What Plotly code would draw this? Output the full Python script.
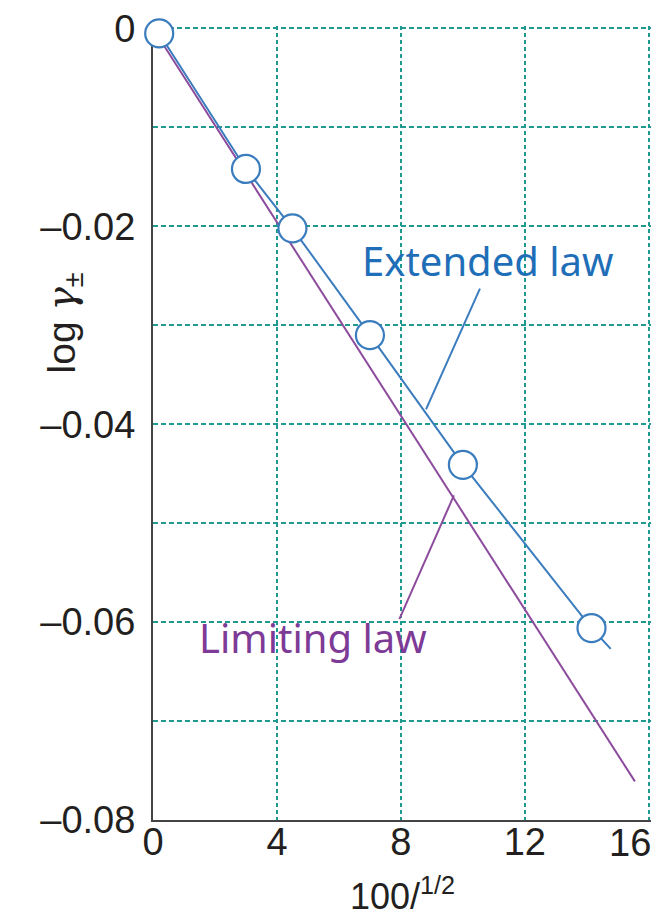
import plotly.graph_objects as go

# ---- data ----
meas_x = [0.2, 3.0, 4.5, 7.0, 10.0, 14.15]
meas_y = [-0.0005, -0.0142, -0.0202, -0.0310, -0.0441, -0.0606]

extended_x = [0.2, 3.0, 4.5, 7.0, 10.0, 14.15, 14.77]
extended_y = [-0.0005, -0.0142, -0.0202, -0.0310, -0.0441, -0.0606, -0.0627]

limiting_x = [0.0, 15.55]
limiting_y = [0.0, -0.0761]

ext_leader_x = [10.55, 8.81]
ext_leader_y = [-0.0263, -0.0385]
lim_leader_x = [7.95, 9.71]
lim_leader_y = [-0.0597, -0.0472]

x_ticks = [0, 4, 8, 12, 16]
x_ticktext = ["0", "4", "8", "12", ""]   # "16" drawn right-aligned below
y_ticks = [0, -0.01, -0.02, -0.03, -0.04, -0.05, -0.06, -0.07, -0.08]
y_ticktext = ["0", "", "–0.02", "", "–0.04", "", "–0.06", "", "–0.08"]

BLUE = "#3a7cbd"
PURPLE = "#8c4b9c"
TEAL = "#1f9a90"
TXT = "#231f20"

fig = go.Figure()
fig.add_trace(go.Scatter(x=limiting_x, y=limiting_y, mode="lines",
                         line=dict(color=PURPLE, width=2), hoverinfo="skip"))
fig.add_trace(go.Scatter(x=extended_x, y=extended_y, mode="lines",
                         line=dict(color=BLUE, width=2), hoverinfo="skip"))
fig.add_trace(go.Scatter(x=ext_leader_x, y=ext_leader_y, mode="lines",
                         line=dict(color=BLUE, width=2), hoverinfo="skip"))
fig.add_trace(go.Scatter(x=lim_leader_x, y=lim_leader_y, mode="lines",
                         line=dict(color=PURPLE, width=2), hoverinfo="skip"))
fig.add_trace(go.Scatter(x=meas_x, y=meas_y, mode="markers", cliponaxis=False,
                         marker=dict(symbol="circle", size=28, color="white",
                                     line=dict(color=BLUE, width=2.2))))

fig.add_annotation(x=10.8, y=-0.0235, text="Extended law", showarrow=False,
                   font=dict(family="Noto Sans", size=40, color="#1f6fb8"))
fig.add_annotation(x=5.15, y=-0.0616, text="Limiting law", showarrow=False,
                   font=dict(family="Noto Sans", size=40, color="#7d3a96"))

# last x tick label, right-aligned to the axis end
fig.add_annotation(x=x_ticks[-1], y=0, yref="paper", text=str(x_ticks[-1]),
                   showarrow=False, xanchor="right", yanchor="top", xshift=4, yshift=0,
                   font=dict(family="Liberation Sans", size=38, color=TXT))
# axis titles
fig.add_annotation(x=-0.234, y=0.626, xref="paper", yref="paper",
                   text="log <span style=\"font-family:'DejaVu Serif'\"><i>γ</i></span><sub>±</sub>",
                   textangle=-90, showarrow=False,
                   font=dict(family="Liberation Sans", size=39, color=TXT))
fig.add_annotation(x=0.5, y=-0.125, xref="paper", yref="paper",
                   text="100/<sup>1/2</sup>", showarrow=False,
                   font=dict(family="Liberation Sans", size=36, color=TXT))

fig.update_layout(
    width=658, height=917,
    margin=dict(l=153, r=7, t=26, b=97, autoexpand=False),
    plot_bgcolor="white", paper_bgcolor="white",
    showlegend=False,
    font=dict(family="Liberation Sans", size=38, color=TXT),
)
fig.update_xaxes(range=[0, 16.07], tickvals=x_ticks, ticktext=x_ticktext,
                 showgrid=True, gridcolor=TEAL, gridwidth=2, griddash="4px,3px",
                 zeroline=False, showline=True, linecolor="#444444", linewidth=2,
                 ticks="", layer="below traces", automargin=False,
                 ticklabelstandoff=-13, ticklabeloverflow="allow")
fig.update_yaxes(range=[-0.08, 0.00025], tickvals=y_ticks, ticktext=y_ticktext,
                 showgrid=True, gridcolor=TEAL, gridwidth=2, griddash="5px,3px",
                 zeroline=False, showline=True, linecolor="#444444", linewidth=2,
                 ticks="", layer="below traces", ticklabelstandoff=8,
                 automargin=False, ticklabeloverflow="allow")

fig.write_html("out.html", config={"displayModeBar": False},
               post_script="document.body.style.margin='0';document.body.style.overflow='hidden';")
